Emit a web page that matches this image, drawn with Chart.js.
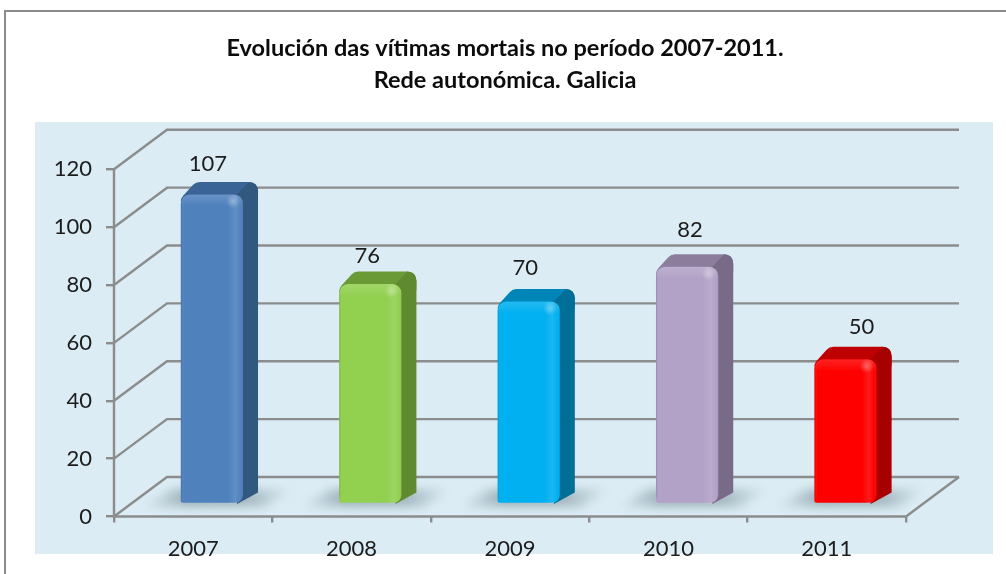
<!DOCTYPE html>
<html><head><meta charset="utf-8">
<style>html,body{margin:0;padding:0;background:#fff}canvas{display:block}</style>
<script src="https://cdn.jsdelivr.net/npm/chart.js@4/dist/chart.umd.min.js"></script>
</head><body><canvas id="c" width="1006" height="574"></canvas>
<script>
const titleLines = ["Evolución das vítimas mortais no período 2007-2011.", "Rede autonómica. Galicia"];
const categories = ["2007", "2008", "2009", "2010", "2011"];
const victims = [107, 76, 70, 82, 50];
const frontColors = ["#4f81bd", "#92d050", "#00b0f0", "#b2a2c7", "#ff0000"];
const sideColors = ["#31587f", "#5f8a30", "#006f98", "#786b87", "#a60000"];
const topColors = ["#3a6396", "#6a9a35", "#0085b8", "#8c7d9c", "#bf0000"];
const labelShiftX = [-4, -3, -3.5, 3, 16];
const labelLift = [31, 28, 34, 37, 32];
const FONT = "Lato, 'Open Sans', sans-serif";
const WALL = {dx: 53, dy: -39.5};
const BAR = {dx: 15, dy: -12.5, sx: 18.7, sy: -12.5};
const GRID = "#8c8c8c";

function roundedPoly(ctx, pts, r){
  ctx.beginPath();
  const n = pts.length;
  const mx = (pts[n-1][0]+pts[0][0])/2, my = (pts[n-1][1]+pts[0][1])/2;
  ctx.moveTo(mx, my);
  for(let i=0;i<n;i++){
    const p = pts[i], q = pts[(i+1)%n];
    ctx.arcTo(p[0], p[1], q[0], q[1], r);
  }
  ctx.closePath();
}

const scene = {
  id: "scene",
  beforeDraw(chart){
    const c = chart.ctx;
    c.save();
    c.fillStyle = "#fff"; c.fillRect(0,0,chart.width,chart.height);
    c.fillStyle = "#dbecf4"; c.fillRect(35,122,958,432);
    c.strokeStyle = "#8a8a8a"; c.lineWidth = 2;
    c.beginPath(); c.moveTo(5,574); c.lineTo(5,11); c.lineTo(1006,11); c.stroke();
    c.restore();
  },
  beforeDatasetsDraw(chart){
    const c = chart.ctx, y = chart.scales.y, x = chart.scales.x;
    const L = x.left, R = x.right, B = y.getPixelForValue(0);
    c.save();
    c.strokeStyle = GRID; c.lineWidth = 2.4;
    y.ticks.forEach(t => {
      const py = y.getPixelForValue(t.value);
      c.beginPath();
      c.moveTo(L, py);
      c.lineTo(L+WALL.dx, py+WALL.dy);
      c.lineTo(R+WALL.dx, py+WALL.dy);
      c.stroke();
    });
    c.beginPath();
    c.moveTo(R, B); c.lineTo(R+WALL.dx, B+WALL.dy);
    c.stroke();
    c.beginPath();
    c.moveTo(L, y.top); c.lineTo(L, B); c.lineTo(R, B);
    c.stroke();
    // floor shadows
    const meta = chart.getDatasetMeta(0);
    meta.data.forEach(b => {
      const x0 = b.x - b.width/2, x1 = b.x + b.width/2;
      const by = B + BAR.sy;
      const gx = c.createLinearGradient(x0+BAR.sx-40, 0, x1+BAR.sx+50, 0);
      gx.addColorStop(0, "rgba(120,140,150,0)");
      gx.addColorStop(0.3, "rgba(120,140,150,0.6)");
      gx.addColorStop(0.7, "rgba(120,140,150,0.55)");
      gx.addColorStop(1, "rgba(120,140,150,0)");
      c.save();
      c.filter = "blur(5px)";
      c.fillStyle = gx;
      c.beginPath();
      c.moveTo(x0+BAR.sx-38, by+3);
      c.lineTo(x0+BAR.sx-8, by-15);
      c.lineTo(x1+BAR.sx+50, by-15);
      c.lineTo(x1+BAR.sx+22, by+3);
      c.closePath();
      c.fill();
      c.restore();
    });
    // side and top faces
    meta.data.forEach((b,i) => {
      const x0 = b.x - b.width/2 + BAR.sx, x1 = b.x + b.width/2 + BAR.sx;
      const ty = b.y + BAR.sy, by = B + BAR.sy;
      c.fillStyle = topColors[i];
      roundedPoly(c, [[x0,ty+4],[x0+BAR.dx,ty+BAR.dy],[x1+BAR.dx,ty+BAR.dy],[x1+BAR.dx,ty+14],[x0,ty+14]], 9);
      c.fill();
      c.fillStyle = sideColors[i];
      c.beginPath();
      c.moveTo(x1-6, by);
      c.lineTo(x1+BAR.dx, by+BAR.dy+1);
      c.lineTo(x1+BAR.dx, ty+BAR.dy+10);
      c.quadraticCurveTo(x1+BAR.dx, ty+BAR.dy, x1+BAR.dx-9, ty+BAR.dy);
      c.lineTo(x1+3, ty+BAR.dy+3);
      c.lineTo(x1-6, ty);
      c.closePath();
      c.fill();
    });
    c.restore();
    c.save();
    c.translate(BAR.sx, BAR.sy);
  },
  afterDatasetsDraw(chart){
    const c = chart.ctx;
    c.restore();
    const y = chart.scales.y, meta = chart.getDatasetMeta(0);
    const by = y.getPixelForValue(0) + BAR.sy;
    c.save();
    meta.data.forEach((b,i) => {
      const x0 = b.x - b.width/2 + BAR.sx, x1 = b.x + b.width/2 + BAR.sx;
      const ty = b.y + BAR.sy, w = x1-x0;
      roundedPoly(c, [[x0,ty],[x1,ty],[x1,by],[x0,by]], 9);
      c.save();
      c.clip();
      const g = c.createLinearGradient(x0,0,x1,0);
      g.addColorStop(0, "rgba(0,0,0,0.18)");
      g.addColorStop(0.05, "rgba(255,255,255,0)");
      g.addColorStop(0.76, "rgba(255,255,255,0)");
      g.addColorStop(0.88, "rgba(255,255,255,0.1)");
      g.addColorStop(0.97, "rgba(255,255,255,0)");
      g.addColorStop(1, "rgba(0,0,0,0.12)");
      c.fillStyle = g; c.fillRect(x0,ty,w,by-ty);
      const v = c.createLinearGradient(0,ty,0,ty+12);
      v.addColorStop(0, "rgba(255,255,255,0.14)");
      v.addColorStop(1, "rgba(255,255,255,0)");
      c.fillStyle = v; c.fillRect(x0,ty,w,12);
      const s = c.createRadialGradient(x1-10,ty+7,0,x1-10,ty+7,7);
      s.addColorStop(0, "rgba(255,255,255,0.3)");
      s.addColorStop(1, "rgba(255,255,255,0)");
      c.fillStyle = s; c.fillRect(x1-18,ty,16,16);
      c.restore();
      // value label
      c.fillStyle = "#1c1c1c";
      c.font = "22px " + FONT;
      c.textAlign = "center"; c.textBaseline = "middle";
      c.fillText(String(victims[i]), x0 + w/2 + labelShiftX[i], ty - labelLift[i]);
    });
    c.restore();
  }
};

new Chart(document.getElementById("c"), {
  type: "bar",
  data: {
    labels: categories,
    datasets: [{
      data: victims,
      backgroundColor: frontColors,
      borderSkipped: false,
      borderRadius: {topLeft: 9, topRight: 9, bottomLeft: 2, bottomRight: 8},
      categoryPercentage: 1,
      barPercentage: 0.393
    }]
  },
  plugins: [scene],
  options: {
    responsive: false,
    animation: false,
    layout: {padding: {left: 4, right: 0, top: 0, bottom: 0}},
    plugins: {
      legend: {display: false},
      tooltip: {enabled: false},
      title: {
        display: true,
        text: titleLines,
        color: "#0c0c0c",
        font: {family: FONT, size: 23.5, weight: "bold", lineHeight: 1.4},
        padding: {top: 31.5, bottom: 72}
      }
    },
    scales: {
      y: {
        min: 0, max: 120,
        afterFit(s){ s.width = 110; },
        ticks: {stepSize: 20, color: "#1c1c1c", padding: 14, font: {family: FONT, size: 22}},
        grid: {drawOnChartArea: false, drawTicks: true, tickLength: 8, color: GRID, lineWidth: 2.4},
        border: {display: false}
      },
      spacer: {
        type: "linear",
        position: "right",
        afterFit(s){ s.width = 100; },
        ticks: {display: false},
        grid: {display: false},
        border: {display: false}
      },
      x: {
        afterFit(s){ s.height = 57.5; },
        ticks: {color: "#1c1c1c", padding: 13, font: {family: FONT, size: 22}},
        grid: {drawOnChartArea: false, drawTicks: true, tickLength: 6, color: GRID, lineWidth: 2.4},
        border: {display: false}
      }
    }
  }
});
</script></body></html>
